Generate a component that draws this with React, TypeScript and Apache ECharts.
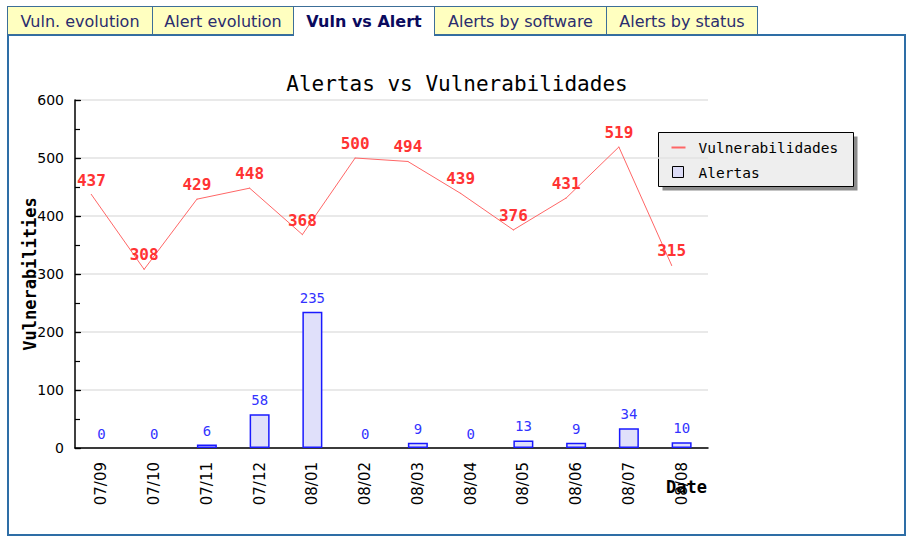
import React, { useEffect, useRef } from "react";
import * as echarts from "echarts";

const categories = ["07/09", "07/10", "07/11", "07/12", "08/01", "08/02", "08/03", "08/04", "08/05", "08/06", "08/07", "08/08"];
const vulnerabilidades = [437, 308, 429, 448, 368, 500, 494, 439, 376, 431, 519, 315];
const alertas = [0, 0, 6, 58, 235, 0, 9, 0, 13, 9, 34, 10];
const tabs = ["Vuln. evolution", "Alert evolution", "Vuln vs Alert", "Alerts by software", "Alerts by status"];
const activeTab = 2;
const tabEdges = [7, 152, 293, 434, 606, 757];
const yMin = 0;
const yMax = 600;
const yInterval = 100;
const yMinorInterval = 50;

const MONO = "'DejaVu Sans Mono', 'Liberation Mono', monospace";
const SANS = "'DejaVu Sans', Verdana, sans-serif";

function Chart() {
  const ref = useRef<HTMLDivElement>(null);
  useEffect(() => {
    if (!ref.current) return;
    const chart = echarts.init(ref.current, undefined, { renderer: "svg" });
    chart.setOption({
      animation: false,
      title: {
        text: "Alertas vs Vulnerabilidades",
        left: 452,
        top: 68,
        textAlign: "center",
        textStyle: { fontFamily: MONO, fontSize: 21, fontWeight: "normal", color: "#000" },
      },
      grid: [
        { left: 75, right: 199, top: 100, bottom: 89 },
        { left: 65, right: 209, top: 100, bottom: 89 },
      ],
      xAxis: [
        {
          type: "category",
          gridIndex: 0,
          data: categories,
          axisLine: { lineStyle: { color: "#000", width: 1.5 } },
          axisTick: { inside: true, length: 7, lineStyle: { color: "#000", width: 1.2 } },
          axisLabel: { rotate: 90, margin: 14, fontSize: 15, color: "#000", fontFamily: SANS },
          splitLine: { show: false },
        },
        { type: "category", gridIndex: 1, data: categories, show: false },
      ],
      yAxis: [
        {
          type: "value",
          gridIndex: 0,
          position: "left",
          min: yMin,
          max: yMax,
          interval: yInterval,
          name: "Vulnerabilities",
          nameLocation: "middle",
          nameGap: 37,
          nameMoveOverlap: false,
          nameTextStyle: { fontFamily: MONO, fontSize: 17, fontWeight: "bold", color: "#000" },
          axisLine: { show: true, lineStyle: { color: "#000", width: 1.5 } },
          axisTick: { show: true, inside: true, length: 6, lineStyle: { color: "#000", width: 1.2 } },
          axisLabel: { margin: 11, fontSize: 14, color: "#000", fontFamily: SANS },
          splitLine: { show: true, lineStyle: { color: "#e2e2e2", width: 1.5 } },
        },
        { type: "value", gridIndex: 1, min: yMin, max: yMax, interval: yInterval, show: false, splitLine: { show: false } },
        {
          type: "value",
          gridIndex: 0,
          position: "left",
          offset: 0,
          min: yMin,
          max: yMax,
          interval: yMinorInterval,
          axisLine: { show: false },
          axisTick: { show: true, inside: true, length: 5, lineStyle: { color: "#000", width: 1.2 } },
          axisLabel: { show: false },
          splitLine: { show: false },
        },
      ],
      series: [
        {
          name: "Alertas",
          type: "bar",
          xAxisIndex: 0,
          yAxisIndex: 0,
          data: alertas.map((v) => (v === 0 ? { value: v, itemStyle: { borderWidth: 0, color: "rgba(0,0,0,0)" } } : v)),
          barWidth: 20,
          itemStyle: { color: "#e0e0fa", borderColor: "#1a1aff", borderWidth: 1.5 },
          label: { show: true, position: "top", distance: 7, color: "#3333ff", fontSize: 14, fontFamily: MONO },
        },
        {
          name: "Vulnerabilidades",
          type: "line",
          xAxisIndex: 1,
          yAxisIndex: 1,
          data: vulnerabilidades,
          symbol: "circle",
          symbolSize: 1,
          itemStyle: { color: "#ff6666" },
          lineStyle: { color: "#ff6666", width: 1 },
          label: { show: true, position: "top", distance: 6, color: "#ff3333", fontSize: 16, fontWeight: "bold", fontFamily: MONO },
        },
      ],
      graphic: [
        {
          type: "text",
          left: 666,
          top: 478,
          style: { text: "Date", fontFamily: MONO, fontSize: 17, fontWeight: "bold", fill: "#000" },
        },
        {
          type: "group",
          left: 658,
          top: 132,
          children: [
            { type: "rect", shape: { x: 4, y: 4, width: 195, height: 54 }, style: { fill: "#8c8c8c" } },
            { type: "rect", shape: { x: 0, y: 0, width: 195, height: 54 }, style: { fill: "#eeeeee", stroke: "#000", lineWidth: 1 } },
            { type: "line", shape: { x1: 13, y1: 15, x2: 27, y2: 15 }, style: { stroke: "#ff6666", lineWidth: 2 } },
            { type: "rect", shape: { x: 14, y: 34, width: 11, height: 11 }, style: { fill: "#dcdcf6", stroke: "#000", lineWidth: 1 } },
            { type: "text", x: 40, y: 15, style: { text: "Vulnerabilidades", fontFamily: MONO, fontSize: 14.5, fill: "#000", verticalAlign: "middle" } },
            { type: "text", x: 40, y: 40, style: { text: "Alertas", fontFamily: MONO, fontSize: 14.5, fill: "#000", verticalAlign: "middle" } },
          ],
        },
      ],
    });
    return () => chart.dispose();
  }, []);
  return <div ref={ref} style={{ position: "absolute", left: 0, top: 0, width: 907, height: 537 }} />;
}

export default function App() {
  return (
    <div style={{ position: "fixed", left: 0, top: 0, width: 907, height: 537, background: "#fff", fontFamily: SANS, overflow: "hidden" }}>
      <div
        style={{
          position: "absolute",
          left: 7,
          top: 34,
          width: 899,
          height: 502,
          border: "2px solid #2e6ea6",
          boxSizing: "border-box",
        }}
      />
      {tabs.map((t, i) => {
        const active = i === activeTab;
        return (
          <div
            key={t}
            style={{
              position: "absolute",
              left: tabEdges[i],
              top: 6,
              width: tabEdges[i + 1] - tabEdges[i] + 1,
              height: active ? 30 : 29,
              boxSizing: "border-box",
              border: "1px solid #3c6e98",
              borderBottom: active ? "none" : "1px solid #3c6e98",
              background: active ? "#ffffff" : "#ffffc0",
              color: active ? "#0a0a5e" : "#2b2d6e",
              fontWeight: active ? "bold" : "normal",
              fontSize: 16,
              lineHeight: "29px",
              textAlign: "center",
              whiteSpace: "nowrap",
              zIndex: active ? 2 : 1,
            }}
          >
            {t}
          </div>
        );
      })}
      <Chart />
    </div>
  );
}
